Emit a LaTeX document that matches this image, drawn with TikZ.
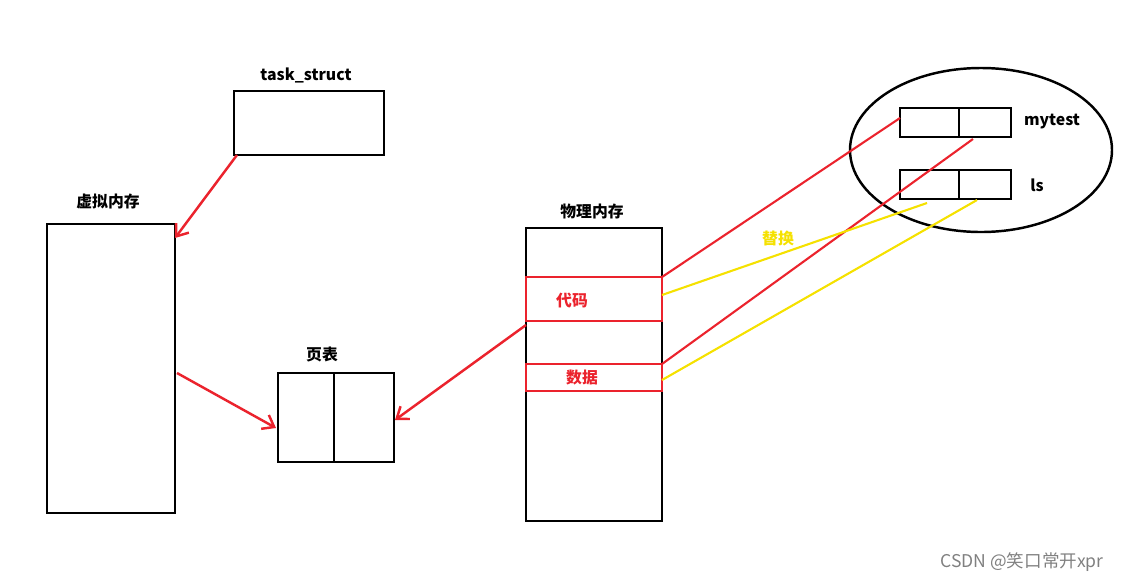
\documentclass[tikz,border=0pt]{standalone}
\usepackage{fontspec}
\usetikzlibrary{arrows.meta}
\setmainfont{Noto Sans CJK SC}
\definecolor{myred}{RGB}{235,35,45}
\definecolor{myyel}{RGB}{245,225,0}
\begin{document}
\begin{tikzpicture}[x=0.02cm,y=-0.02cm,
  blk/.style={draw=black,line width=1.4pt},
  rbx/.style={draw=myred,line width=1.6pt},
  rl/.style={draw=myred,line width=1.2pt},
  yl/.style={draw=myyel,line width=1.2pt},
  ra/.style={rl,line width=1.4pt,-{Straight Barb[length=6pt,width=9pt]}},
  lab/.style={font=\bfseries\small}]
\useasboundingbox (0,0) rectangle (1122,582);
\draw[blk] (234,91) rectangle (384,155);
\node[lab] (ts) at (306,75) {task\_struct};
\coordinate (tsb) at (237,155);
\draw[blk] (47,224) rectangle (175,513);
\node[lab] (vm) at (108,201) {虚拟内存};
\coordinate (vmt) at (175,238);
\coordinate (vmr) at (177,373);
\draw[blk] (278,373) rectangle (394,462);
\draw[blk] (334,373) -- (334,462);
\node[lab] (pt) at (322,354) {页表};
\coordinate (ptl) at (276,428);
\coordinate (ptr) at (395,420);
\draw[blk] (526,228) rectangle (662,521);
\node[lab] (pm) at (592,211) {物理内存};
\draw[rbx] (526,277) rectangle (662,321);
\node[lab,text=myred] (dm) at (572,300) {代码};
\draw[rbx] (526,364) rectangle (662,391);
\node[lab,text=myred] (sj) at (582,378) {数据};
\coordinate (pml) at (526,325);
\draw[blk] (981,150) ellipse [x radius=131, y radius=82];
\draw[blk] (900,108) rectangle (1011,137);
\draw[blk] (959,108) -- (959,137);
\node[lab] (mt) at (1052,122) {mytest};
\draw[blk] (900,170) rectangle (1011,199);
\draw[blk] (959,170) -- (959,199);
\node[lab] (ls) at (1037,185) {ls};
\node[lab,text=myyel] (th) at (778,238) {替换};
\draw[ra] (tsb) -- (vmt);
\draw[ra] (vmr) -- (ptl);
\draw[ra] (pml) -- (ptr);
\draw[rl] (662,277) -- (900,118);
\draw[rl] (662,364) -- (973,139);
\draw[yl] (662,295) -- (927,203);
\draw[yl] (662,380) -- (977,200);
\node[text=gray,font=\normalsize] (wm) at (1022,562) {CSDN @笑口常开xpr};
\end{tikzpicture}
\end{document}
